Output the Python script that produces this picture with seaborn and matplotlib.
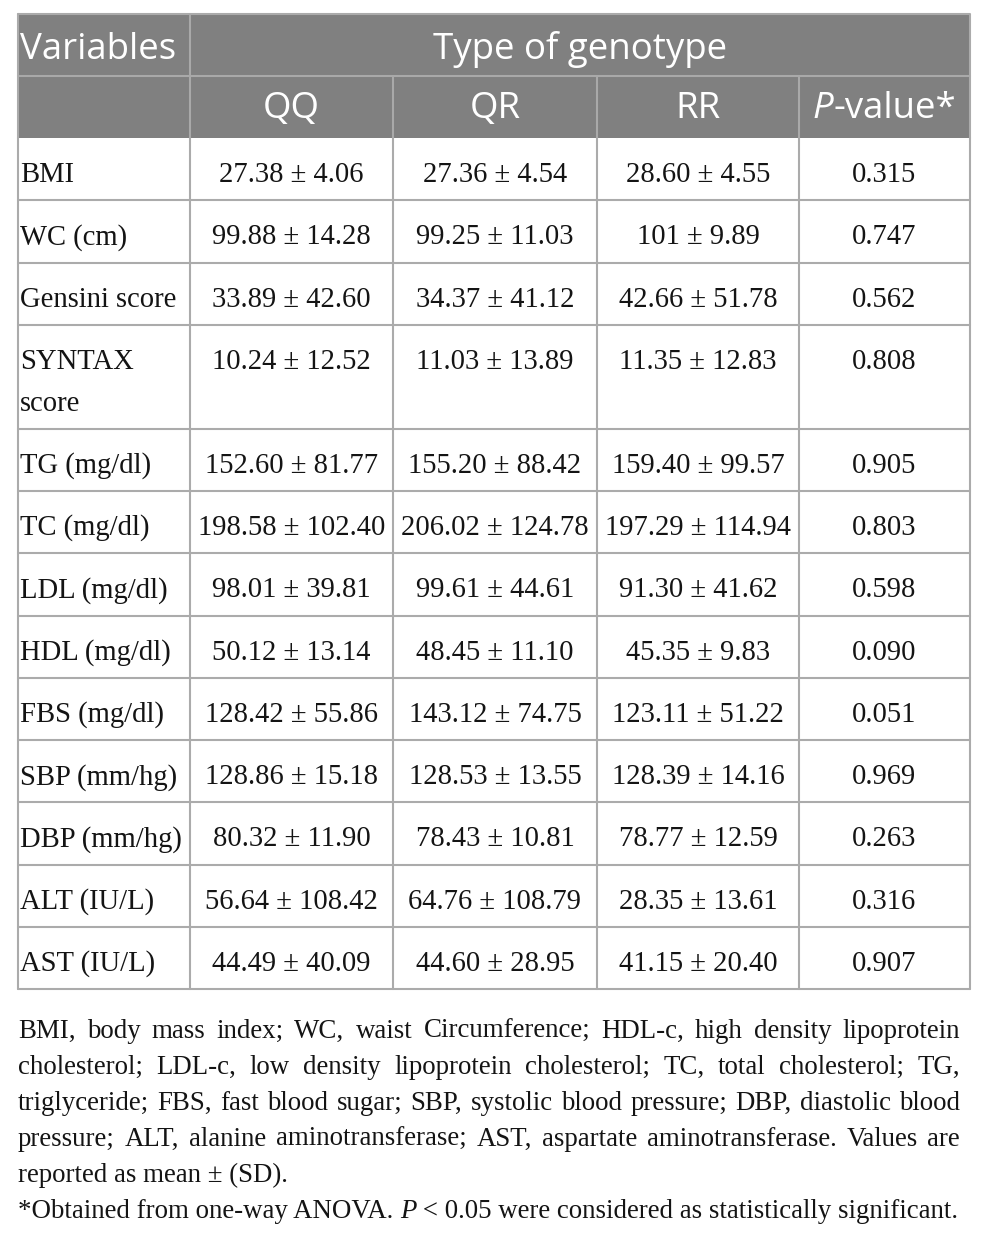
import matplotlib
matplotlib.use("Agg")
import matplotlib.pyplot as plt
import seaborn as sns
from matplotlib.patches import Rectangle

# ---------------- data ----------------
first_header = "Variables"
group_title = "Type of genotype"
group_labels = ["QQ", "QR", "RR"]
pvalue_label = ("P", "-value*")

variables = ["BMI", "WC (cm)", "Gensini score", "SYNTAX\nscore", "TG (mg/dl)",
             "TC (mg/dl)", "LDL (mg/dl)", "HDL (mg/dl)", "FBS (mg/dl)",
             "SBP (mm/hg)", "DBP (mm/hg)", "ALT (IU/L)", "AST (IU/L)"]
qq = ["27.38 ± 4.06", "99.88 ± 14.28", "33.89 ± 42.60", "10.24 ± 12.52",
      "152.60 ± 81.77", "198.58 ± 102.40", "98.01 ± 39.81", "50.12 ± 13.14",
      "128.42 ± 55.86", "128.86 ± 15.18", "80.32 ± 11.90", "56.64 ± 108.42",
      "44.49 ± 40.09"]
qr = ["27.36 ± 4.54", "99.25 ± 11.03", "34.37 ± 41.12", "11.03 ± 13.89",
      "155.20 ± 88.42", "206.02 ± 124.78", "99.61 ± 44.61", "48.45 ± 11.10",
      "143.12 ± 74.75", "128.53 ± 13.55", "78.43 ± 10.81", "64.76 ± 108.79",
      "44.60 ± 28.95"]
rr = ["28.60 ± 4.55", "101 ± 9.89", "42.66 ± 51.78", "11.35 ± 12.83",
      "159.40 ± 99.57", "197.29 ± 114.94", "91.30 ± 41.62", "45.35 ± 9.83",
      "123.11 ± 51.22", "128.39 ± 14.16", "78.77 ± 12.59", "28.35 ± 13.61",
      "41.15 ± 20.40"]
p_values = ["0.315", "0.747", "0.562", "0.808", "0.905", "0.803", "0.598",
            "0.090", "0.051", "0.969", "0.263", "0.316", "0.907"]

footnote_lines = [
    "BMI, body mass index; WC, waist Circumference; HDL-c, high density lipoprotein",
    "cholesterol; LDL-c, low density lipoprotein cholesterol; TC, total cholesterol; TG,",
    "triglyceride; FBS, fast blood sugar; SBP, systolic blood pressure; DBP, diastolic blood",
    "pressure; ALT, alanine aminotransferase; AST, aspartate aminotransferase. Values are",
    "reported as mean ± (SD).",
]
footnote_star = [("*Obtained from one-way ANOVA. ", "normal"), ("P", "italic"),
                 (" < 0.05 were considered as statistically significant.", "normal")]

# ---------------- style ----------------
sns.set_theme(style="white")
plt.rcParams["font.family"] = ["Liberation Serif", "DejaVu Serif"]

W, H = 982, 1240
fig = plt.figure(figsize=(W / 100, H / 100), dpi=100)
ax = fig.add_axes([0, 0, 1, 1])
ax.set_xlim(0, W)
ax.set_ylim(H, 0)
ax.axis("off")
renderer = fig.canvas.get_renderer()

SERIF = ["Liberation Serif", "DejaVu Serif"]
SANS = ["Open Sans", "DejaVu Sans"]
BODY_FS = 20.6
HEAD_FS = 26.4
HEAD_BG = "#808080"
HEAD_LINE = "#a9a9a9"
GRID = "#ababab"
TXT = "#141414"
LW = 1.5

col_edges = [18, 190, 393, 597, 799, 970]
head_top, head_h = 14, 62
single_h, extra_line = 62.3, 41.5


def width_of(t):
    return t.get_window_extent(renderer).width


def seq_text(x, y, pieces, family, fs, color, ha="left"):
    objs = []
    for s, style in pieces:
        objs.append(ax.text(0, y, s, family=family, fontsize=fs, color=color,
                            fontstyle=style, va="baseline", ha="left"))
    widths = [width_of(o) for o in objs]
    total = sum(widths)
    x0 = x - total / 2 if ha == "center" else x
    for o, w in zip(objs, widths):
        o.set_x(x0)
        x0 += w
    return total


# ---------------- header ----------------
x_left, x_right = col_edges[0], col_edges[-1]
ax.add_patch(Rectangle((x_left, head_top), x_right - x_left, 2 * head_h,
                       facecolor=HEAD_BG, edgecolor="none", zorder=1))
ax.plot([x_left, x_right], [head_top + head_h] * 2, color=HEAD_LINE, lw=LW, zorder=2)
ax.plot([col_edges[1]] * 2, [head_top, head_top + 2 * head_h], color=HEAD_LINE, lw=LW, zorder=2)
for cx in col_edges[2:-1]:
    ax.plot([cx] * 2, [head_top + head_h, head_top + 2 * head_h], color=HEAD_LINE, lw=LW, zorder=2)

ax.text(col_edges[0] + 2, head_top + 45, first_header, family=SANS, fontsize=HEAD_FS,
        color="white", va="baseline", ha="left")
ax.text((col_edges[1] + col_edges[-1]) / 2, head_top + 45, group_title, family=SANS,
        fontsize=HEAD_FS, color="white", va="baseline", ha="center")
centers = [(col_edges[i] + col_edges[i + 1]) / 2 for i in range(len(col_edges) - 1)]
for c, lab in zip(centers[1:4], group_labels):
    ax.text(c, head_top + head_h + 42, lab, family=SANS, fontsize=HEAD_FS,
            color="white", va="baseline", ha="center")
seq_text(centers[4], head_top + head_h + 42,
         [(pvalue_label[0], "italic"), (pvalue_label[1], "normal")],
         SANS, HEAD_FS, "white", ha="center")

# ---------------- body ----------------
y = head_top + 2 * head_h
row_edges = [y]
for i, var in enumerate(variables):
    nlines = var.count("\n") + 1
    h = single_h + (nlines - 1) * extra_line
    base = y + 44
    for k, line in enumerate(var.split("\n")):
        ax.text(col_edges[0] + 2, base + k * 42, line, family=SERIF, fontsize=BODY_FS,
                color=TXT, va="baseline", ha="left")
    for c, vals in zip(centers[1:], [qq, qr, rr, p_values]):
        ax.text(c, base, vals[i], family=SERIF, fontsize=BODY_FS, color=TXT,
                va="baseline", ha="center")
    y += h
    row_edges.append(y)

for ry in row_edges[1:]:
    ax.plot([x_left, x_right], [ry, ry], color=GRID, lw=LW, zorder=2)
for cx in col_edges:
    ax.plot([cx, cx], [row_edges[0], row_edges[-1]], color=GRID, lw=LW, zorder=2)
# outer header border
ax.plot([x_left, x_right, x_right], [head_top, head_top, row_edges[0]], color=GRID, lw=LW, zorder=2)
ax.plot([x_left, x_left], [head_top, row_edges[0]], color=GRID, lw=LW, zorder=2)

# ---------------- footnote ----------------
FN_X0, FN_X1 = 18, 960
probe = ax.text(0, 0, "".join(p for p, _ in footnote_star), family=SERIF, fontsize=20)
fn_fs = 20 * 939 / width_of(probe)
probe.remove()

fn_base0, fn_step = 1038, 36
for i, line in enumerate(footnote_lines):
    by = fn_base0 + i * fn_step
    words = line.split(" ")
    if i < len(footnote_lines) - 1:
        objs = [ax.text(0, by, w, family=SERIF, fontsize=fn_fs, color=TXT,
                        va="baseline", ha="left") for w in words]
        ws = [width_of(o) for o in objs]
        gap = (FN_X1 - FN_X0 - sum(ws)) / (len(words) - 1)
        x = FN_X0
        for o, w in zip(objs, ws):
            o.set_x(x)
            x += w + gap
    else:
        ax.text(FN_X0, by, line, family=SERIF, fontsize=fn_fs, color=TXT,
                va="baseline", ha="left")

seq_text(FN_X0, fn_base0 + len(footnote_lines) * fn_step, footnote_star, SERIF, fn_fs, TXT)

fig.savefig("out.png", dpi=100)
